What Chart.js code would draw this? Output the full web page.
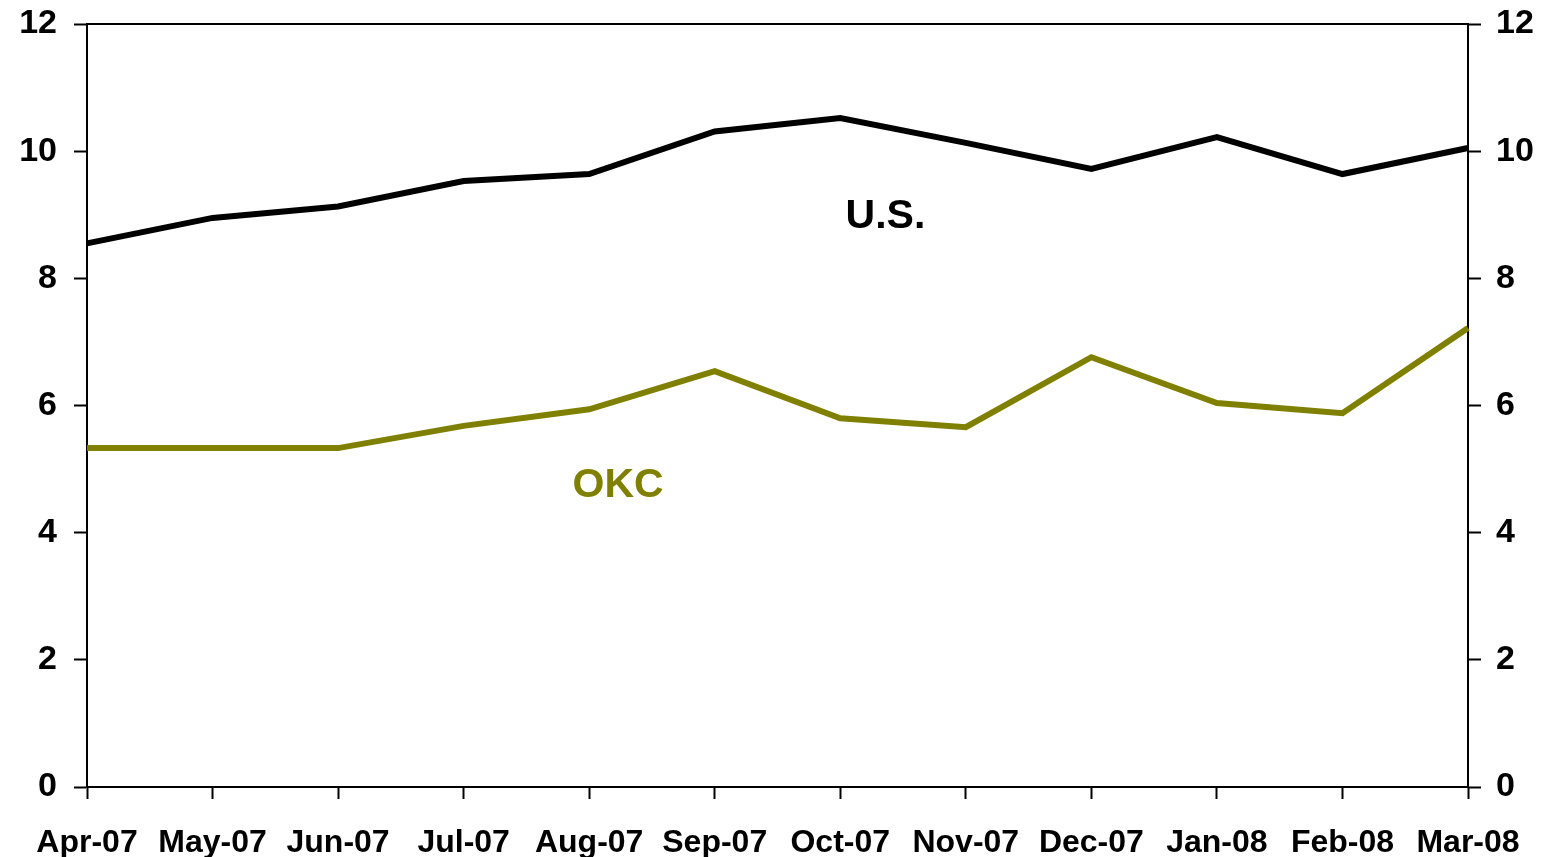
<!DOCTYPE html>
<html lang="en">
<head>
  <meta charset="UTF-8" />
  <title>U.S. vs OKC</title>
  <script src="https://cdn.jsdelivr.net/npm/chart.js"></script>
  <style>
    html, body {
      margin: 0;
      padding: 0;
      background-color: #fff;
      overflow: hidden;
    }
    #chart {
      display: block;
    }
  </style>
</head>
<body>
  <canvas id="chart" width="1551" height="857"></canvas>
  <script>
    const months = ['Apr-07', 'May-07', 'Jun-07', 'Jul-07', 'Aug-07', 'Sep-07',
                    'Oct-07', 'Nov-07', 'Dec-07', 'Jan-08', 'Feb-08', 'Mar-08'];
    const usValues = [8.55, 8.95, 9.13, 9.53, 9.64, 10.31, 10.52, 10.13, 9.72, 10.22, 9.64, 10.05];
    const okcValues = [5.33, 5.33, 5.33, 5.68, 5.94, 6.54, 5.80, 5.66, 6.76, 6.04, 5.88, 7.22];
    const yTicks = [0, 2, 4, 6, 8, 10, 12];

    // series labels written inside the plot, placed in data units
    const seriesLabels = [
      { text: 'U.S.', x: 6.36, y: 8.97, color: '#000000' },
      { text: 'OKC', x: 4.23, y: 4.74, color: '#808000' }
    ];

    const family = "'Liberation Sans', Arial, sans-serif";
    const xFont = { family: family, size: 32, weight: 'bold' };
    const yFont = { family: family, size: 34, weight: 'bold' };

    const frame = {
      id: 'frame',
      afterDraw(chart) {
        const { ctx, chartArea, scales } = chart;
        ctx.save();
        // top border
        ctx.strokeStyle = '#000';
        ctx.lineWidth = 2;
        ctx.beginPath();
        ctx.moveTo(chartArea.left, chartArea.top);
        ctx.lineTo(chartArea.right, chartArea.top);
        ctx.stroke();
        // in-plot series labels
        ctx.font = "bold 41px " + family;
        ctx.textAlign = 'center';
        ctx.textBaseline = 'middle';
        seriesLabels.forEach(l => {
          ctx.fillStyle = l.color;
          ctx.fillText(l.text, scales.x.getPixelForValue(l.x), scales.y.getPixelForValue(l.y));
        });
        ctx.restore();
      }
    };

    const yAxis = (pos, width, pad) => ({
      position: pos,
      min: 0,
      max: 12,
      afterBuildTicks: s => { s.ticks = yTicks.map(v => ({ value: v })); },
      afterFit: s => { s.width = width; s.paddingTop = 0; s.paddingBottom = 0; },
      ticks: { color: '#000', font: yFont, padding: pad },
      grid: { display: true, drawOnChartArea: false, drawTicks: true, tickLength: 13, tickColor: '#000', tickWidth: 2 },
      border: { display: true, color: '#000', width: 2 }
    });

    new Chart(document.getElementById('chart'), {
      type: 'line',
      data: {
        labels: months,
        datasets: [
          { label: 'U.S.', data: usValues, borderColor: '#000000', borderWidth: 6, pointRadius: 0, tension: 0, yAxisID: 'y' },
          { label: 'OKC', data: okcValues, borderColor: '#808000', borderWidth: 6, pointRadius: 0, tension: 0, yAxisID: 'y' }
        ]
      },
      options: {
        responsive: false,
        animation: false,
        layout: { padding: { top: 24, left: 0, right: 0, bottom: 0 } },
        plugins: { legend: { display: false }, tooltip: { enabled: false } },
        scales: {
          x: {
            offset: false,
            afterFit: s => { s.height = 70; s.paddingLeft = 0; s.paddingRight = 0; },
            ticks: { color: '#000', font: xFont, maxRotation: 0, autoSkip: false, padding: 25 },
            grid: { display: true, offset: false, drawOnChartArea: false, drawTicks: true, tickLength: 12, tickColor: '#000', tickWidth: 2 },
            border: { display: true, color: '#000', width: 2 }
          },
          y: yAxis('left', 87, 17),
          y2: yAxis('right', 83, 15)
        }
      },
      plugins: [frame]
    });
  </script>
</body>
</html>
